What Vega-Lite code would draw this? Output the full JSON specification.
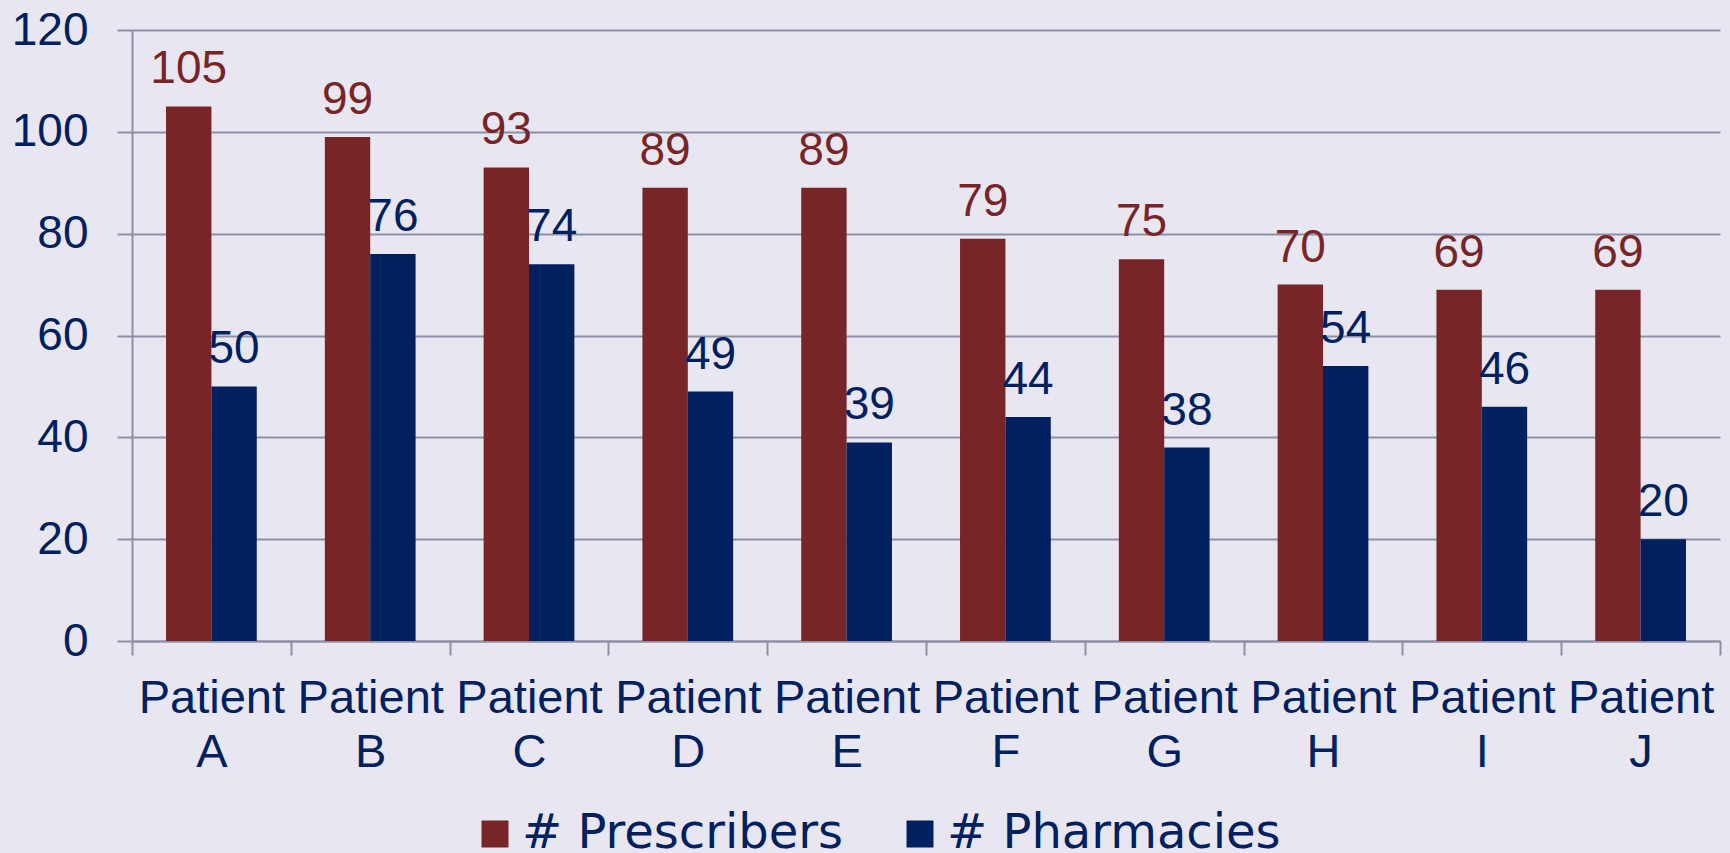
{"$schema":"https://vega.github.io/schema/vega-lite/v6.json","width":1588,"height":611,"padding":{"left":132,"top":30,"right":10,"bottom":212},"autosize":{"type":"none"},"background":"#e8e7f1","config":{"view":{"stroke":null},"font":"Liberation Sans"},"data":{"values":[
{"patient":"Patient A","series":"# Prescribers","value":105},{"patient":"Patient A","series":"# Pharmacies","value":50},
{"patient":"Patient B","series":"# Prescribers","value":99},{"patient":"Patient B","series":"# Pharmacies","value":76},
{"patient":"Patient C","series":"# Prescribers","value":93},{"patient":"Patient C","series":"# Pharmacies","value":74},
{"patient":"Patient D","series":"# Prescribers","value":89},{"patient":"Patient D","series":"# Pharmacies","value":49},
{"patient":"Patient E","series":"# Prescribers","value":89},{"patient":"Patient E","series":"# Pharmacies","value":39},
{"patient":"Patient F","series":"# Prescribers","value":79},{"patient":"Patient F","series":"# Pharmacies","value":44},
{"patient":"Patient G","series":"# Prescribers","value":75},{"patient":"Patient G","series":"# Pharmacies","value":38},
{"patient":"Patient H","series":"# Prescribers","value":70},{"patient":"Patient H","series":"# Pharmacies","value":54},
{"patient":"Patient I","series":"# Prescribers","value":69},{"patient":"Patient I","series":"# Pharmacies","value":46},
{"patient":"Patient J","series":"# Prescribers","value":69},{"patient":"Patient J","series":"# Pharmacies","value":20}
]},
"encoding":{
"x":{"field":"patient","type":"nominal","title":null,"scale":{"paddingInner":0,"paddingOuter":0},"axis":{"labelAngle":0,"labelFontSize":47,"labelColor":"#002060","labelFont":"Liberation Sans","labelLineHeight":54,"labelExpr":"split(datum.label,' ')","labelPadding":20,"labelBaseline":"top","tickBand":"extent","tickSize":14,"tickWidth":2,"tickColor":"#8e8fa5","domainColor":"#8e8fa5","domainWidth":2,"grid":false,"labelOverlap":false,"labelLimit":400}},
"y":{"field":"value","type":"quantitative","title":null,"scale":{"domain":[0,120],"nice":false},"axis":{"values":[0,20,40,60,80,100,120],"labelFontSize":46,"labelColor":"#002060","labelFont":"Liberation Sans","labelPadding":29,"tickSize":15,"tickWidth":2,"tickColor":"#8e8fa5","domainColor":"#8e8fa5","domainWidth":2,"grid":true,"gridColor":"#8e8fa5","gridWidth":2,"gridOpacity":1}},
"xOffset":{"field":"series","type":"nominal","sort":["# Prescribers","# Pharmacies"],"scale":{"paddingInner":0,"paddingOuter":0.75}}
},
"layer":[
{"mark":{"type":"bar"},"encoding":{"color":{"field":"series","type":"nominal","sort":["# Prescribers","# Pharmacies"],"scale":{"domain":["# Prescribers","# Pharmacies"],"range":["#782528","#002060"]},"legend":{"title":null,"orient":"none","legendX":339,"legendY":780,"padding":0,"direction":"horizontal","symbolType":"square","symbolSize":729,"symbolStrokeWidth":0,"symbolOpacity":1,"labelFontSize":48,"labelColor":"#002060","labelFont":"DejaVu Sans","labelLimit":500,"columnPadding":53,"labelOffset":3}}}},
{"mark":{"type":"text","baseline":"bottom","dy":-13,"fontSize":46,"font":"Liberation Sans"},"encoding":{"text":{"field":"value","type":"quantitative"},"color":{"field":"series","type":"nominal","sort":["# Prescribers","# Pharmacies"],"legend":null}}}
]}
